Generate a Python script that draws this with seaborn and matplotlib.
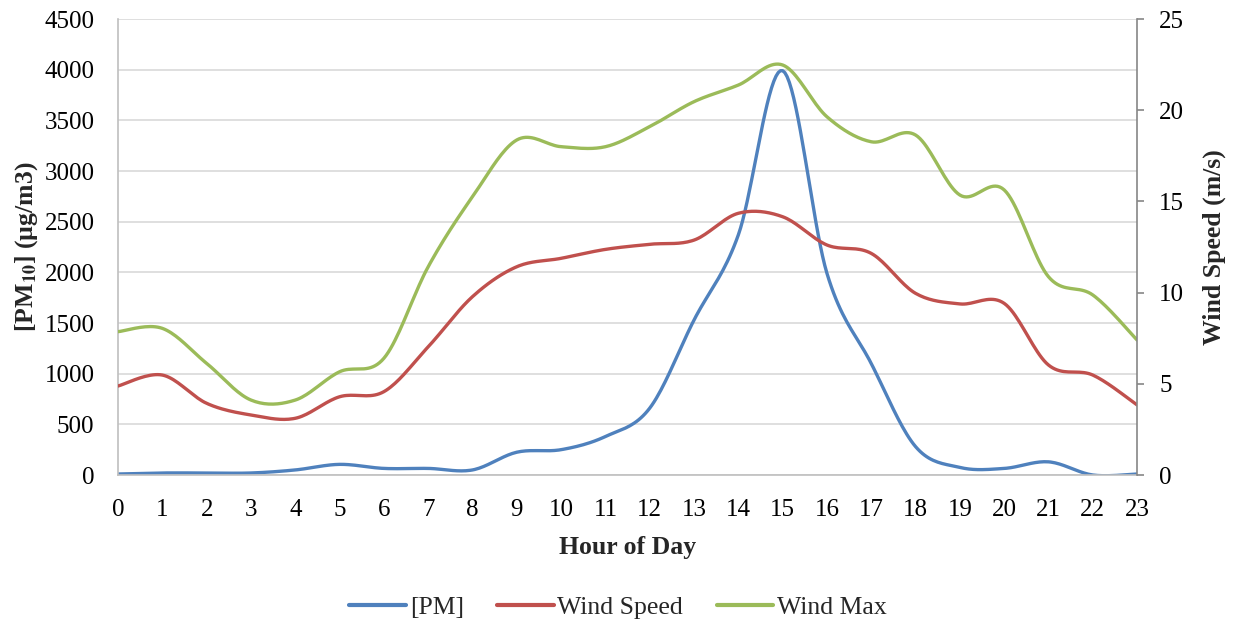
import numpy as np
import pandas as pd
import matplotlib
matplotlib.use("Agg")
import matplotlib.pyplot as plt
import seaborn as sns
from matplotlib.lines import Line2D

hours = list(range(24))
pm = [10, 20, 20, 20, 50, 105, 65, 65, 50, 225, 250, 380, 660, 1530, 2370, 3990,
      1990, 1100, 280, 75, 65, 130, 0, 10]
wind_speed = [4.88, 5.48, 3.93, 3.29, 3.11, 4.29, 4.57, 7.03, 9.78, 11.42, 11.88, 12.37,
              12.65, 12.88, 14.35, 14.16, 12.61, 12.15, 9.96, 9.38, 9.41, 6.03, 5.48, 3.84]
wind_max = [7.86, 8.04, 6.12, 4.11, 4.11, 5.66, 6.40, 11.42, 15.26, 18.37, 18.0, 18.0,
            19.1, 20.47, 21.38, 22.48, 19.64, 18.27, 18.64, 15.35, 15.63, 10.87, 9.87, 7.40]
series_names = ["[PM]", "Wind Speed", "Wind Max"]
colors = ["#4F81BD", "#C0504D", "#9BBB59"]


def smooth(x, y, n=20):
    # Excel-like smoothed line: cubic Bezier segments with Catmull-Rom control points
    x = np.asarray(x, float)
    y = np.asarray(y, float)
    xs, ys = [], []
    m = len(x)
    for i in range(m - 1):
        p0 = np.array([x[max(i - 1, 0)], y[max(i - 1, 0)]])
        p1 = np.array([x[i], y[i]])
        p2 = np.array([x[i + 1], y[i + 1]])
        p3 = np.array([x[min(i + 2, m - 1)], y[min(i + 2, m - 1)]])
        c1 = p1 + (p2 - p0) / 6.0
        c2 = p2 - (p3 - p1) / 6.0
        t = np.linspace(0, 1, n, endpoint=(i == m - 2))
        b = ((1 - t) ** 3)[:, None] * p1 + (3 * (1 - t) ** 2 * t)[:, None] * c1 + \
            (3 * (1 - t) * t ** 2)[:, None] * c2 + (t ** 3)[:, None] * p2
        xs.extend(b[:, 0])
        ys.extend(b[:, 1])
    return np.array(xs), np.array(ys)


sns.set_theme(style="white")
plt.rcParams["font.family"] = ["Liberation Serif", "DejaVu Serif"]
plt.rcParams["mathtext.fontset"] = "stix"

TICK_FS = 18
LABEL_FS = 18.5

fig = plt.figure(figsize=(12.36, 6.26), dpi=100)
ax = fig.add_axes([0.0955, 0.2412, 0.8245, 0.7284])
ax2 = ax.twinx()

sx, sy = smooth(hours, pm)
sns.lineplot(x=sx, y=sy, ax=ax, color=colors[0], linewidth=2.4, sort=False)
sx, sy = smooth(hours, wind_speed)
sns.lineplot(x=sx, y=sy, ax=ax2, color=colors[1], linewidth=2.4, sort=False)
sx, sy = smooth(hours, wind_max)
sns.lineplot(x=sx, y=sy, ax=ax2, color=colors[2], linewidth=2.4, sort=False)

ax.set_xlim(0, 23)
ax.set_ylim(0, 4500)
ax.set_yticks(range(0, 4501, 500))
ax.set_xticks(hours)
ax2.set_ylim(0, 25)
ax2.set_yticks(range(0, 26, 5))

ax.yaxis.grid(True, color="#D9D9D9", linewidth=1.2)
ax.xaxis.grid(False)
ax2.grid(False)

for a in (ax, ax2):
    a.spines["top"].set_visible(False)
    for s in ("left", "bottom", "right"):
        a.spines[s].set_color("#BFBFBF")
        a.spines[s].set_linewidth(1.2)
ax.spines["right"].set_visible(False)
ax2.spines["left"].set_visible(False)
ax2.spines["bottom"].set_visible(False)
ax2.spines["right"].set_color("#868686")

ax.tick_params(axis="y", labelsize=TICK_FS, length=0, pad=17, colors="#000000")
ax.tick_params(axis="x", labelsize=TICK_FS, length=0, pad=17, colors="#000000")
ax2.tick_params(axis="y", labelsize=TICK_FS, length=5, width=1.2, color="#868686",
                direction="out", pad=11, labelcolor="#000000")

ax.set_xlabel("Hour of Day", fontsize=LABEL_FS, fontweight="bold", labelpad=11)
ax.set_ylabel(r"[PM$_{\mathbf{10}}$] (µg/m3)", fontsize=LABEL_FS, fontweight="bold", labelpad=3)
ax2.set_ylabel("Wind Speed (m/s)", fontsize=LABEL_FS, fontweight="bold", labelpad=13)

handles = [Line2D([0], [0], color=c, linewidth=3) for c in colors]
fig.legend(handles, series_names, loc="center", bbox_to_anchor=(0.5, 0.03), ncol=3,
           frameon=False, fontsize=LABEL_FS, handlelength=2.2, handletextpad=0.15,
           columnspacing=1.3)

fig.savefig("out.png", dpi=100)
